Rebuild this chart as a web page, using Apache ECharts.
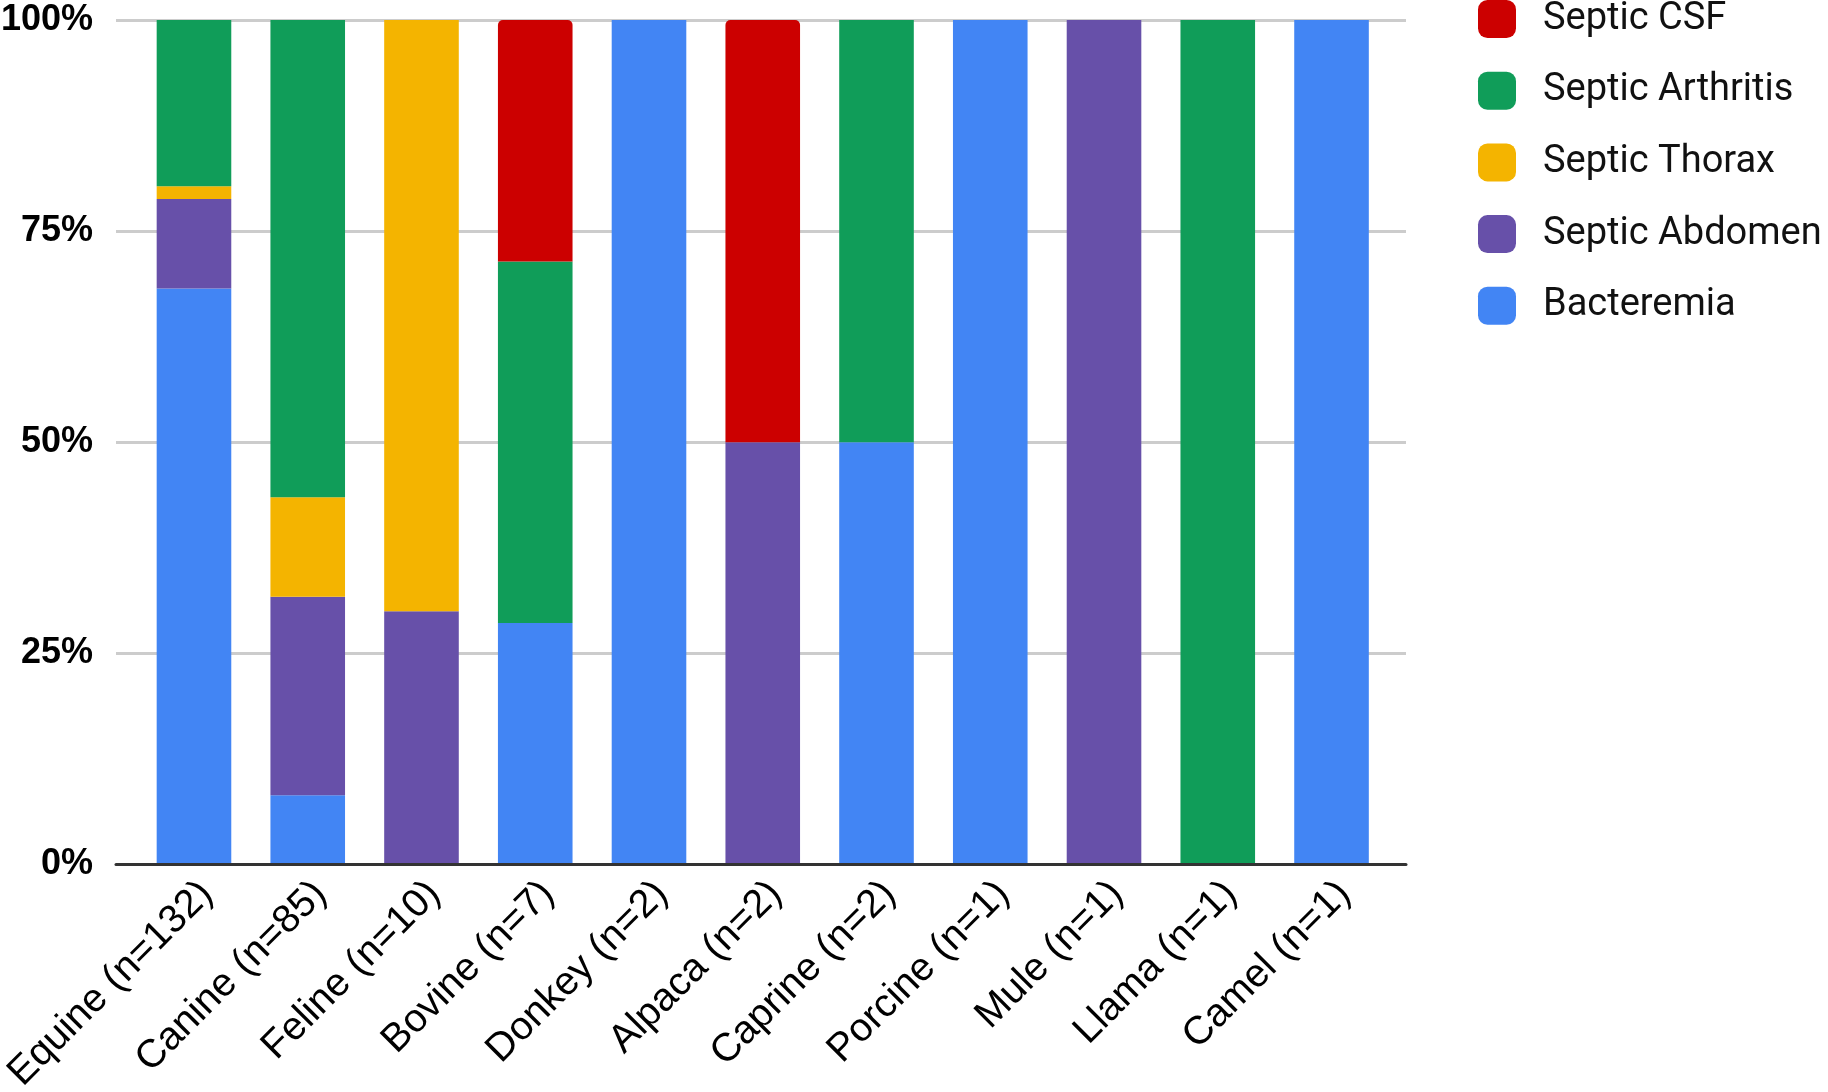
<!DOCTYPE html>
<html>
<head>
<meta charset="utf-8">
<script src="https://cdn.jsdelivr.net/npm/echarts@6/dist/echarts.min.js"></script>
<style>
html,body{margin:0;padding:0;background:#fff;}
#chart{width:1828px;height:1092px;}
</style>
</head>
<body>
<div id="chart"></div>
<script>
// Categories (species with sample size)
var categories = ['Equine (n=132)','Canine (n=85)','Feline (n=10)','Bovine (n=7)','Donkey (n=2)','Alpaca (n=2)','Caprine (n=2)','Porcine (n=1)','Mule (n=1)','Llama (n=1)','Camel (n=1)'];
// Series values (percent of each species' isolates)
var bacteremia = [68.2, 8.2, 0, 28.6, 100, 0, 50, 100, 0, 0, 100];
var septicAbdomen = [10.6, 23.5, 30, 0, 0, 50, 0, 0, 100, 0, 0];
var septicThorax = [1.5, 11.8, 70, 0, 0, 0, 0, 0, 0, 0, 0];
var septicArthritis = [19.7, 56.5, 0, 42.8, 0, 0, 50, 0, 0, 100, 0];
var septicCSF = [0, 0, 0, 28.6, 0, 50, 0, 0, 0, 0, 0];
// Y axis ticks
var yTicks = [0, 25, 50, 75, 100];
var legendOrder = ['Septic CSF','Septic Arthritis','Septic Thorax','Septic Abdomen','Bacteremia'];

var colors = {
  'Bacteremia':'#4285f4',
  'Septic Abdomen':'#6750a9',
  'Septic Thorax':'#f4b400',
  'Septic Arthritis':'#109d59',
  'Septic CSF':'#cc0000'
};

function barSeries(name, data, radius){
  return {
    name: name, type: 'bar', stack: 'total', data: data,
    xAxisIndex: 0, yAxisIndex: 0,
    barWidth: 74.6,
    itemStyle: {color: colors[name], borderRadius: radius || 0},
    emphasis: {disabled: true},
    animation: false
  };
}

var chart = echarts.init(document.getElementById('chart'), null, {renderer:'canvas'});
chart.setOption({
  animation: false,
  backgroundColor: '#fff',
  grid: [
    {left: 137.1, right: 439.6, top: 20, bottom: 227.5, containLabel: false, outerBoundsMode: 'none'},
    {left: 116, right: 422, top: 20, bottom: 227.5, containLabel: false, outerBoundsMode: 'none'}
  ],
  legend: {
    orient: 'vertical', left: 1478, top: 0, padding: 0,
    itemWidth: 38, itemHeight: 38, itemGap: 33.7,
    icon: 'roundRect',
    selectedMode: false,
    data: legendOrder,
    textStyle: {fontFamily: 'Roboto', fontSize: 38, color: '#111', lineHeight: 38, padding: [0,0,0,22]}
  },
  xAxis: [
    {
      type: 'category', gridIndex: 0, data: categories,
      axisLine: {show: false}, axisTick: {show: false},
      axisLabel: {rotate: 45, margin: 36, interval: 0, fontFamily: 'Liberation Sans', fontSize: 39.5, color: '#000', padding: [0,-18,0,0]}
    },
    {
      type: 'value', gridIndex: 1, min: 0, max: 1, z: 10,
      axisLine: {show: true, lineStyle: {color: '#333', width: 3}},
      axisTick: {show: false}, axisLabel: {show: false}, splitLine: {show: false}
    }
  ],
  yAxis: [
    {type: 'value', gridIndex: 0, min: 0, max: 100, interval: 25, show: false},
    {
      type: 'value', gridIndex: 1, min: yTicks[0], max: yTicks[yTicks.length-1], interval: 25,
      axisLine: {show: false}, axisTick: {show: false},
      axisLabel: {margin: 23, formatter: '{value}%', fontFamily: 'Liberation Sans', fontWeight: 'bold', fontSize: 36, color: '#000'},
      splitLine: {show: true, lineStyle: {color: '#cccccc', width: 3}}
    }
  ],
  series: [
    barSeries('Bacteremia', bacteremia),
    barSeries('Septic Abdomen', septicAbdomen),
    barSeries('Septic Thorax', septicThorax),
    barSeries('Septic Arthritis', septicArthritis),
    barSeries('Septic CSF', septicCSF, [5,5,0,0])
  ]
});
</script>
</body>
</html>
